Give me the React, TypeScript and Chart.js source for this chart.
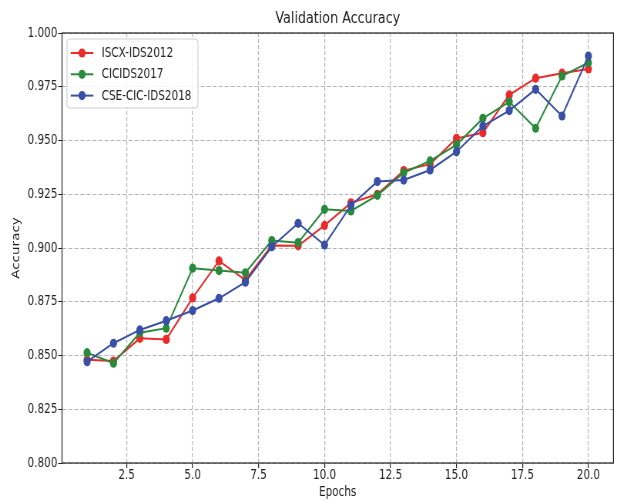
import React, { useEffect, useRef } from "react";
import { Chart, registerables } from "chart.js";

Chart.register(...registerables);

const epochs = [1, 2, 3, 4, 5, 6, 7, 8, 9, 10, 11, 12, 13, 14, 15, 16, 17, 18, 19, 20];
const iscx2012 = [0.848, 0.8474, 0.858, 0.8575, 0.8768, 0.894, 0.8851, 0.9012, 0.901, 0.9105, 0.921, 0.925, 0.936, 0.939, 0.951, 0.9536, 0.9712, 0.979, 0.9813, 0.9833];
const cicids2017 = [0.8513, 0.8464, 0.8606, 0.8627, 0.8906, 0.8895, 0.8885, 0.9035, 0.9025, 0.918, 0.9172, 0.9245, 0.935, 0.9405, 0.948, 0.9603, 0.968, 0.9557, 0.98, 0.9862];
const cseCicIds2018 = [0.8471, 0.8557, 0.8619, 0.8662, 0.8709, 0.8766, 0.8841, 0.9006, 0.9115, 0.9014, 0.9198, 0.9309, 0.9316, 0.9363, 0.9448, 0.9567, 0.9639, 0.9738, 0.9614, 0.9893];
const seriesNames = ["ISCX-IDS2012", "CICIDS2017", "CSE-CIC-IDS2018"];
const seriesColors = ["#ec2a2a", "#2a8a3c", "#3a4fa6"];
const xTicks = [2.5, 5, 7.5, 10, 12.5, 15, 17.5, 20];
const yTicks = [0.8, 0.825, 0.85, 0.875, 0.9, 0.925, 0.95, 0.975, 1.0];

const TARGET_W = 617;
const H = 501;
const SX = 0.77;
const W = Math.round(TARGET_W / SX);
const FONT = "'DejaVu Sans', sans-serif";

const framePlugin = {
  id: "frameAndLegend",
  afterDraw(chart: any) {
    const { ctx, chartArea } = chart;
    const { left, top, right, bottom } = chartArea;
    ctx.save();
    ctx.setLineDash([]);
    ctx.strokeStyle = "#222";
    ctx.lineWidth = 1.2;
    ctx.strokeRect(left, top, right - left, bottom - top);

    // legend
    const fx = left + 6.5;
    const fy = top + 6;
    const fw = 170;
    const fh = 69;
    const r = 4;
    ctx.beginPath();
    ctx.moveTo(fx + r, fy);
    ctx.lineTo(fx + fw - r, fy);
    ctx.quadraticCurveTo(fx + fw, fy, fx + fw, fy + r);
    ctx.lineTo(fx + fw, fy + fh - r);
    ctx.quadraticCurveTo(fx + fw, fy + fh, fx + fw - r, fy + fh);
    ctx.lineTo(fx + r, fy + fh);
    ctx.quadraticCurveTo(fx, fy + fh, fx, fy + fh - r);
    ctx.lineTo(fx, fy + r);
    ctx.quadraticCurveTo(fx, fy, fx + r, fy);
    ctx.closePath();
    ctx.fillStyle = "rgba(255,255,255,0.85)";
    ctx.fill();
    ctx.strokeStyle = "#d0d0d0";
    ctx.lineWidth = 1.2;
    ctx.stroke();

    chart.data.datasets.forEach((ds: any) => {
      const idx = seriesNames.indexOf(ds.label);
      const y = top + 20 + idx * 21.3;
      ctx.strokeStyle = ds.borderColor;
      ctx.lineWidth = 2;
      ctx.beginPath();
      ctx.moveTo(left + 11.3, y);
      ctx.lineTo(left + 40.7, y);
      ctx.stroke();
      ctx.fillStyle = ds.borderColor;
      ctx.beginPath();
      ctx.arc(left + 26, y, 4.6, 0, Math.PI * 2);
      ctx.fill();
      ctx.fillStyle = "#222";
      ctx.font = `13.5px ${FONT}`;
      ctx.textBaseline = "middle";
      ctx.textAlign = "left";
      ctx.fillText(ds.label, left + 51.5, y + 0.5);
    });
    ctx.restore();
  },
};

export default function App() {
  const ref = useRef<HTMLCanvasElement>(null);
  useEffect(() => {
    if (!ref.current) return;
    const series = [iscx2012, cicids2017, cseCicIds2018];
    const chart = new Chart(ref.current, {
      type: "line",
      data: {
        datasets: series.map((vals, i) => ({
          label: seriesNames[i],
          data: epochs.map((e, j) => ({ x: e, y: vals[j] })),
          borderColor: seriesColors[i],
          backgroundColor: seriesColors[i],
          pointBackgroundColor: seriesColors[i],
          pointBorderColor: seriesColors[i],
          pointRadius: 4.6,
          pointBorderWidth: 0,
          borderWidth: 2,
          tension: 0,
          fill: false,
          order: 2 - i,
        })),
      },
      options: {
        responsive: false,
        animation: false,
        devicePixelRatio: 1,
        layout: { padding: { left: 0, right: W - 798.5, top: 0, bottom: 0 } },
        plugins: {
          legend: { display: false },
          tooltip: { enabled: false },
          title: {
            display: true,
            text: "Validation Accuracy",
            fullSize: false,
            color: "#222",
            font: { family: FONT, size: 16.5, weight: "normal" },
            padding: { top: 8.6, bottom: 4.6 },
          },
        },
        scales: {
          x: {
            type: "linear",
            min: 0.05,
            max: 20.95,
            afterFit: (s: any) => {
              s.height = 38;
            },
            afterBuildTicks: (s: any) => {
              s.ticks = xTicks.map((v) => ({ value: v }));
            },
            ticks: {
              color: "#222",
              font: { family: FONT, size: 13.5 },
              padding: -1,
              maxRotation: 0,
              autoSkip: false,
              callback: (v: any) => Number(v).toFixed(1),
            },
            grid: {
              color: "#b4b4b4",
              lineWidth: 1.2,
              drawTicks: true,
              tickLength: 5,
              tickColor: "#222",
              tickBorderDash: [],
              tickWidth: 1.2,
            },
            border: { display: false, dash: [4, 2] },
            title: {
              display: true,
              text: "Epochs",
              color: "#222",
              font: { family: FONT, size: 13.5 },
              padding: { top: 0, bottom: 0.8 },
            },
          },
          y: {
            type: "linear",
            min: 0.8,
            max: 1.0,
            afterFit: (s: any) => {
              s.width = 80.5;
            },
            afterBuildTicks: (s: any) => {
              s.ticks = yTicks.map((v) => ({ value: v }));
            },
            ticks: {
              color: "#222",
              font: { family: FONT, size: 13.5 },
              padding: 1,
              autoSkip: false,
              callback: (v: any) => Number(v).toFixed(3),
            },
            grid: {
              color: "#b4b4b4",
              lineWidth: 1,
              drawTicks: true,
              tickLength: 5,
              tickColor: "#222",
              tickBorderDash: [],
            },
            border: { display: false, dash: [5.2, 2.6] },
            title: {
              display: true,
              text: "Accuracy",
              color: "#222",
              font: { family: FONT, size: 13.5 },
              padding: { top: 13.4, bottom: 0 },
            },
          },
        },
      },
      plugins: [framePlugin],
    } as any);
    return () => chart.destroy();
  }, []);

  return (
    <div
      style={{
        position: "fixed",
        left: 0,
        top: 0,
        width: TARGET_W,
        height: H,
        overflow: "hidden",
        background: "#fff",
      }}
    >
      <div
        style={{
          width: W,
          height: H,
          transform: `scaleX(${TARGET_W / W})`,
          transformOrigin: "0 0",
        }}
      >
        <canvas ref={ref} width={W} height={H} style={{ display: "block" }} />
      </div>
    </div>
  );
}
